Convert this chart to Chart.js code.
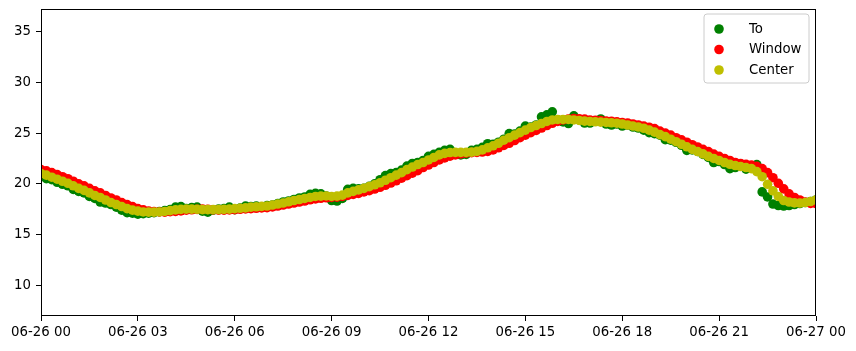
<!DOCTYPE html>
<html><head><meta charset="utf-8">
<script src="https://cdn.jsdelivr.net/npm/chart.js@4.4.1/dist/chart.umd.min.js"></script>
<style>html,body{margin:0;padding:0;background:#fff;}canvas{display:block;}</style>
</head><body>
<canvas id="c" width="856" height="351"></canvas>
<script>
// sampling: one reading every 10 minutes from 06-26 00:00 to 06-27 00:00
const sampleStepHours = 1 / 6;

const seriesNames = ['To', 'Window', 'Center'];
const seriesColors = ['#008000', '#ff0000', '#bfbf00'];

// raw readings (To) — one row per hour
const toValues = [
  20.7, 20.5, 20.4, 20.15, 19.95, 19.8,
  19.45, 19.25, 19.1, 18.75, 18.55, 18.2,
  18.1, 17.95, 17.7, 17.4, 17.15, 17.1,
  17.0, 17.05, 17.1, 17.15, 17.25, 17.35,
  17.45, 17.7, 17.75, 17.55, 17.65, 17.7,
  17.3, 17.2, 17.4, 17.5, 17.55, 17.7,
  17.45, 17.6, 17.8, 17.75, 17.8, 17.7,
  17.85, 17.9, 18.05, 18.2, 18.3, 18.45,
  18.6, 18.7, 18.95, 19.05, 19.0, 18.8,
  18.35, 18.3, 18.55, 19.45, 19.55, 19.5,
  19.55, 19.75, 20.0, 20.4, 20.8, 21.0,
  21.1, 21.35, 21.75, 22.0, 22.1, 22.3,
  22.7, 22.9, 23.1, 23.3, 23.4, 23.0,
  22.85, 22.9, 23.3, 23.4, 23.6, 23.95,
  23.9, 24.1, 24.4, 24.95, 24.9, 25.2,
  25.7, 25.6, 25.8, 26.6, 26.8, 27.1,
  26.3, 26.1, 25.95, 26.7, 26.3, 26.0,
  26.0, 26.2, 26.4, 25.9, 25.8, 25.9,
  25.7, 25.8, 25.6, 25.5, 25.3, 25.05,
  24.95, 24.8, 24.35, 24.3, 24.1, 23.8,
  23.3, 23.35, 23.2, 22.9, 22.6, 22.1,
  22.2, 21.9, 21.5, 21.6, 21.8, 21.45,
  21.6, 21.9, 19.2, 18.7, 18.0, 17.85,
  17.8, 17.85, 17.95, 18.05, 18.15, 18.25,
  18.4
];

// trailing rolling mean (Window)
const windowValues = [
  21.4, 21.28, 21.1, 20.9, 20.7, 20.5,
  20.25, 20.0, 19.8, 19.55, 19.3, 19.1,
  18.85, 18.6, 18.4, 18.15, 17.95, 17.75,
  17.55, 17.42, 17.3, 17.25, 17.22, 17.2,
  17.25, 17.28, 17.33, 17.4, 17.43, 17.47,
  17.5, 17.47, 17.43, 17.4, 17.4, 17.42,
  17.45, 17.48, 17.52, 17.55, 17.58, 17.62,
  17.65, 17.72, 17.8, 17.9, 18.0, 18.1,
  18.2, 18.3, 18.42, 18.5, 18.57, 18.62,
  18.65, 18.68, 18.75, 18.85, 18.95, 19.05,
  19.2, 19.32, 19.48, 19.65, 19.85, 20.07,
  20.3, 20.55, 20.8, 21.05, 21.3, 21.6,
  21.85, 22.1, 22.35, 22.55, 22.72, 22.85,
  22.95, 23.02, 23.07, 23.1, 23.13, 23.2,
  23.35, 23.55, 23.78, 24.0, 24.27, 24.55,
  24.8, 25.05, 25.27, 25.5, 25.75, 25.97,
  26.15, 26.3, 26.4, 26.45, 26.42, 26.38,
  26.3, 26.27, 26.23, 26.2, 26.17, 26.12,
  26.05, 26.0, 25.9, 25.8, 25.7, 25.58,
  25.45, 25.2, 25.0, 24.8, 24.55, 24.33,
  24.1, 23.85, 23.63, 23.4, 23.17, 22.93,
  22.7, 22.5, 22.3, 22.1, 22.0, 21.92,
  21.85, 21.72, 21.5, 21.1, 20.6, 20.05,
  19.5, 19.0, 18.65, 18.4, 18.2, 18.07,
  18.05
];

// centred rolling mean (Center)
const centerValues = [
  21.0, 20.85, 20.65, 20.45, 20.25, 20.05,
  19.8, 19.55, 19.35, 19.1, 18.85, 18.65,
  18.4, 18.15, 17.95, 17.75, 17.55, 17.4,
  17.3, 17.22, 17.2, 17.2, 17.22, 17.27,
  17.35, 17.42, 17.47, 17.5, 17.5, 17.48,
  17.45, 17.45, 17.45, 17.45, 17.47, 17.5,
  17.55, 17.58, 17.62, 17.7, 17.73, 17.77,
  17.8, 17.9, 18.0, 18.1, 18.22, 18.35,
  18.45, 18.55, 18.65, 18.75, 18.78, 18.8,
  18.75, 18.78, 18.88, 19.1, 19.25, 19.4,
  19.55, 19.72, 19.9, 20.1, 20.35, 20.6,
  20.85, 21.1, 21.4, 21.65, 21.9, 22.1,
  22.35, 22.6, 22.85, 23.0, 23.08, 23.1,
  23.1, 23.1, 23.12, 23.2, 23.35, 23.55,
  23.75, 24.0, 24.3, 24.55, 24.8, 25.05,
  25.3, 25.55, 25.75, 25.95, 26.15, 26.3,
  26.35, 26.35, 26.35, 26.3, 26.25, 26.18,
  26.15, 26.12, 26.08, 26.05, 26.02, 25.98,
  25.9, 25.8, 25.7, 25.6, 25.48, 25.3,
  25.1, 24.85, 24.65, 24.4, 24.15, 23.9,
  23.65, 23.4, 23.18, 22.95, 22.7, 22.5,
  22.3, 22.1, 21.92, 21.8, 21.7, 21.6,
  21.5, 21.2, 20.7, 19.95, 19.3, 18.75,
  18.35, 18.2, 18.12, 18.1, 18.15, 18.25,
  18.4
];

const xTickHours = [0, 3, 6, 9, 12, 15, 18, 21, 24];
const xTickLabels = ['06-26 00', '06-26 03', '06-26 06', '06-26 09', '06-26 12',
                     '06-26 15', '06-26 18', '06-26 21', '06-27 00'];
const yTickValues = [10, 15, 20, 25, 30, 35];
const yLimits = [6.95, 37.25];
const xLimits = [0, 24];

const FONT = "'DejaVu Sans', sans-serif";
const seriesValues = [toValues, windowValues, centerValues];

const datasets = seriesValues.map((vals, i) => ({
  label: seriesNames[i],
  data: vals.map((v, k) => ({ x: k * sampleStepHours, y: v })),
  backgroundColor: seriesColors[i],
  borderColor: seriesColors[i],
  pointRadius: 4.8,
  pointHoverRadius: 4.8,
  pointBorderWidth: 0,
  showLine: false,
  clip: 0,
  order: 2 - i
}));

const framePlugin = {
  id: 'frame',
  afterDatasetsDraw(chart) {
    const { ctx, chartArea: a } = chart;
    ctx.save();
    ctx.strokeStyle = '#000';
    ctx.lineWidth = 1;
    ctx.strokeRect(a.left + 0.5, a.top + 0.5, a.right - a.left - 1, a.bottom - a.top - 1);
    ctx.restore();
  }
};

const legendPlugin = {
  id: 'boxLegend',
  afterDraw(chart) {
    const { ctx, chartArea: a } = chart;
    const w = 105, h = 69;
    const x = a.right - 7 - w, y = a.top + 5;
    ctx.save();
    ctx.beginPath();
    const r = 3;
    ctx.moveTo(x + r, y);
    ctx.arcTo(x + w, y, x + w, y + h, r);
    ctx.arcTo(x + w, y + h, x, y + h, r);
    ctx.arcTo(x, y + h, x, y, r);
    ctx.arcTo(x, y, x + w, y, r);
    ctx.closePath();
    ctx.fillStyle = 'rgba(255,255,255,0.8)';
    ctx.fill();
    ctx.strokeStyle = '#cccccc';
    ctx.lineWidth = 1;
    ctx.stroke();
    chart.data.datasets.forEach((ds, i) => {
      const cy = y + 15 + i * 20.5;
      ctx.beginPath();
      ctx.arc(x + 15, cy, 4.8, 0, Math.PI * 2);
      ctx.fillStyle = ds.backgroundColor;
      ctx.fill();
      ctx.fillStyle = '#000';
      ctx.font = '13.3px ' + FONT;
      ctx.textAlign = 'left';
      ctx.textBaseline = 'middle';
      ctx.fillText(ds.label, x + 45, cy + 0.5);
    });
    ctx.restore();
  }
};

new Chart(document.getElementById('c'), {
  type: 'scatter',
  data: { datasets },
  options: {
    responsive: false,
    animation: false,
    devicePixelRatio: 1,
    layout: { padding: { left: 0, top: 9, right: 40, bottom: 0 } },
    plugins: { legend: { display: false }, tooltip: { enabled: false } },
    scales: {
      x: {
        type: 'linear',
        min: xLimits[0], max: xLimits[1],
        afterFit: s => { s.height = 35; s.paddingLeft = 0; s.paddingRight = 0; s.paddingTop = 0; s.paddingBottom = 0; },
        afterBuildTicks: s => { s.ticks = xTickHours.map(v => ({ value: v })); },
        ticks: {
          color: '#000', font: { family: FONT, size: 13.3 }, padding: 4,
          maxRotation: 0, autoSkip: false,
          callback: (v) => xTickLabels[xTickHours.indexOf(v)]
        },
        grid: { display: true, drawOnChartArea: false, drawTicks: true, tickLength: 5, color: '#000' },
        border: { display: false }
      },
      y: {
        type: 'linear',
        min: yLimits[0], max: yLimits[1],
        afterFit: s => { s.width = 41; s.paddingTop = 0; s.paddingBottom = 0; s.paddingLeft = 0; s.paddingRight = 0; },
        afterBuildTicks: s => { s.ticks = yTickValues.map(v => ({ value: v })); },
        ticks: {
          color: '#000', font: { family: FONT, size: 13.3 }, padding: 5,
          callback: (v) => String(v)
        },
        grid: { display: true, drawOnChartArea: false, drawTicks: true, tickLength: 5, color: '#000' },
        border: { display: false }
      }
    }
  },
  plugins: [framePlugin, legendPlugin]
});
</script>
</body></html>
